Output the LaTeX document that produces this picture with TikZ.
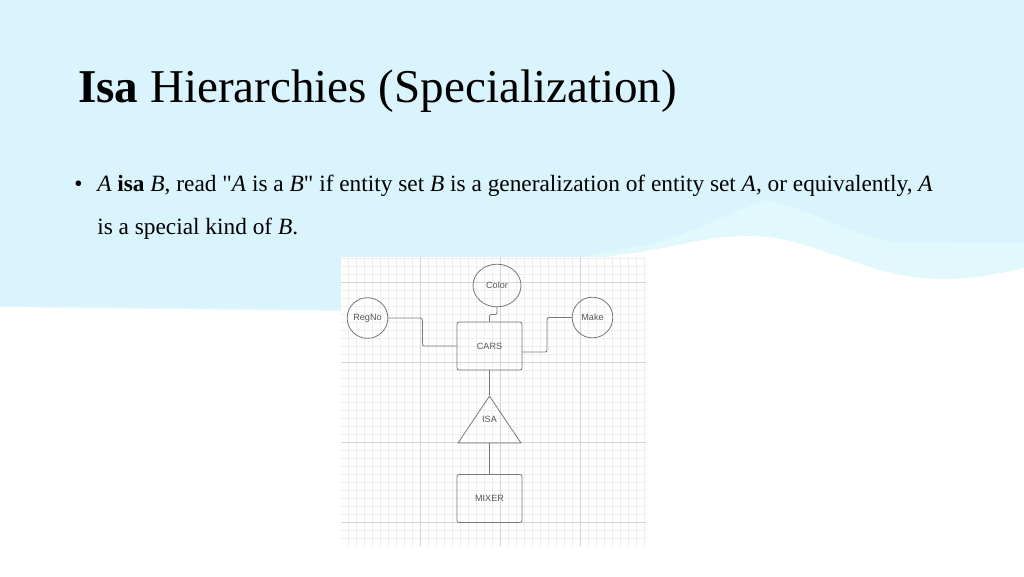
\documentclass[tikz,border=0pt]{standalone}
\usepackage{fontspec}
\setmainfont{Liberation Serif}
\newfontfamily\diagfont{Liberation Sans}
\usetikzlibrary{shapes.geometric,calc}

\definecolor{skyblue}{RGB}{217,244,252}
\definecolor{paleband}{RGB}{225,249,252}
\definecolor{gridminor}{RGB}{238,238,238}
\definecolor{gridmajor}{RGB}{212,212,212}
\definecolor{erline}{RGB}{120,120,120}
\definecolor{ertext}{RGB}{85,85,85}

\begin{document}
\begin{tikzpicture}
            [x=0.75pt, y=-0.75pt,
             entity/.style={shape=rectangle, draw=erline, line width=0.6pt, rounded corners=1.5pt,
                            minimum width=48.75pt, minimum height=36pt,
                            font=\diagfont\fontsize{6.8}{8}\selectfont, text=ertext},
             attr/.style={shape=circle, draw=erline, line width=0.6pt, inner sep=0pt,
                          minimum size=30.5pt, font=\diagfont\fontsize{6.8}{8}\selectfont, text=ertext},
             link/.style={draw=erline, line width=0.6pt, rounded corners=1.5pt}]
            \useasboundingbox (0,0) rectangle (1024,576);
            \fill[white] (0,0) rectangle (1024,576);

            % slide background
            \fill[paleband] (0,0) -- (1024,0) -- (1024,268)
                .. controls (975,280) and (930,284) .. (880,270)
                .. controls (820,252) and (790,234) .. (740,236)
                .. controls (700,238) and (670,248) .. (640,252)
                .. controls (560,262) and (420,300) .. (340,311)
                -- (0,307) -- cycle;
            \fill[skyblue] (0,0) -- (1024,0) -- (1024,243) -- (890,242)
                .. controls (840,230) and (800,205) .. (767,200)
                .. controls (720,215) and (680,240) .. (640,246)
                .. controls (560,258) and (420,298) .. (340,309)
                -- (0,306) -- cycle;

            % grid paper
            \begin{scope}
                \clip (341,257) rectangle (646,545);
                \fill[white] (341,257) rectangle (646,545);
                \begin{scope}[shift={(340,282)}]
                    \draw[gridminor, line width=0.4pt, step=6pt] (0,-26) grid (306,264);
                    \draw[gridmajor, line width=0.5pt, step=60pt] (0,-26) grid (306,264);
                \end{scope}
            \end{scope}

            % texts
            \node[anchor=base west, inner sep=0pt, font=\fontsize{35.3}{42}\selectfont] (title) at (78,102)
                {\textbf{Isa} Hierarchies (Specialization)};
            \node[anchor=base west, inner sep=0pt, font=\fontsize{17.5}{21}\selectfont] (bullet) at (74,191) {•};
            \node[anchor=base west, inner sep=0pt, font=\fontsize{17.5}{21}\selectfont] (line1) at (97,191)
                {\textit{A} \textbf{isa} \textit{B}, read \textquotedbl\textit{A} is a \textit{B}\textquotedbl{} if entity set \textit{B} is a generalization of entity set \textit{A}, or equivalently, \textit{A}};
            \node[anchor=base west, inner sep=0pt, font=\fontsize{17.5}{21}\selectfont] (line2) at (97,234)
                {is a special kind of \textit{B}.};

            % diagram
            \node[entity] (cars) at (489.5,346) {CARS};
            \node[entity] (mixer) at (489.5,498.5) {MIXER};
            \node[shape=isosceles triangle, shape border rotate=90, isosceles triangle stretches,
                  draw=erline, line width=0.6pt, inner sep=0pt, minimum width=47.25pt, minimum height=35.25pt,
                  anchor=apex, font=\diagfont\fontsize{6.8}{8}\selectfont, text=ertext] (isa) at (489.5,395)
                  {\raisebox{11pt}{ISA}};
            \node[attr, shape=ellipse, minimum width=36pt, minimum height=32pt] (color) at (497,285.5) {Color};
            \node[attr] (regno) at (367.5,318) {RegNo};
            \node[attr] (make) at (592.5,317.5) {Make};

            \path[link] (color.south) |- ($(color.south)!.5!(cars.north)$) -| (cars.north);
            \path[link] (regno.east) -| ($(regno.east)!.5!(cars.west)$) |- (cars.west);
            \path[link] (make.west) -| ($(make.west)!.5!([yshift=-4.5pt]cars.east)$) |- ([yshift=-4.5pt]cars.east);
            \path[link] (cars.south) -- (isa.apex);
            \path[link] (isa.lower side) -- (mixer.north);
        \end{tikzpicture}
\end{document}
